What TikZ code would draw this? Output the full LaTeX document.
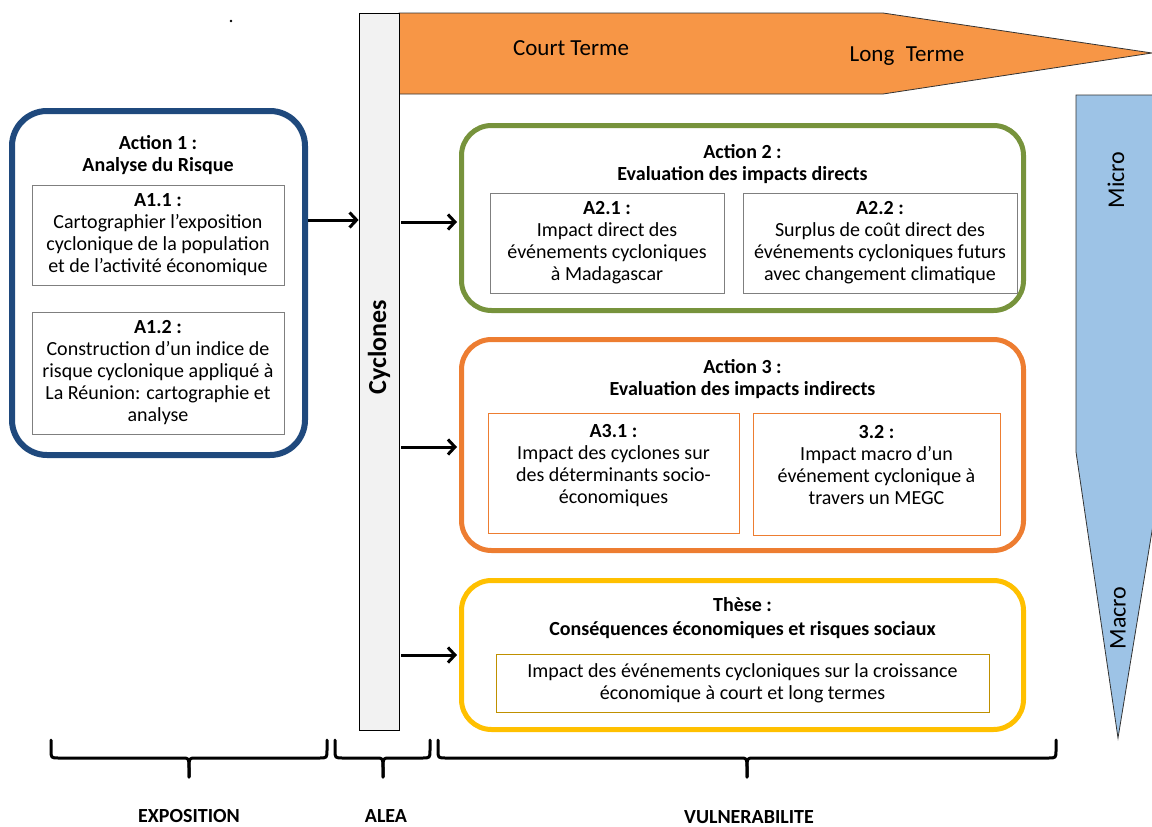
\documentclass[tikz,border=0pt]{standalone}
\usepackage{fontspec}
\setmainfont{Carlito}
\usetikzlibrary{arrows.meta}
\definecolor{orA}{HTML}{F79646}
\definecolor{bluA}{HTML}{9DC3E6}
\definecolor{cycgray}{HTML}{F2F2F2}
\definecolor{navy}{HTML}{1F497D}
\definecolor{grn}{HTML}{77933C}
\definecolor{orB}{HTML}{ED7D31}
\definecolor{yel}{HTML}{FFC000}
\definecolor{boxgray}{HTML}{7F7F7F}
\definecolor{gold}{HTML}{BF9000}
\newcommand\mybrace[3]{%
  \draw[brc] (#1,740) -- (#1,750) .. controls (#1,758) .. (#1+8,758) -- (#2-7,758)
    .. controls (#2,758) .. (#2,768) -- (#2,777);
  \draw[brc] (#2,777) -- (#2,768) .. controls (#2,758) .. (#2+7,758) -- (#3-8,758)
    .. controls (#3,758) .. (#3,750) -- (#3,740);}
\begin{document}
\begin{tikzpicture}[x=1pt,y=-1pt,
  txt/.style={font=\fontsize{20}{22}\selectfont, align=center, inner sep=0pt},
  ttl/.style={align=center, inner sep=0pt, font=\fontsize{20}{22}\selectfont\bfseries},
  outbox/.style={draw, rounded corners=30pt, inner sep=0pt, line width=5pt},
  inbox/.style={draw=boxgray, line width=0.8pt, inner sep=0pt, align=center,
    font=\fontsize{20}{22}\selectfont},
  arr/.style={line width=3pt, -{Straight Barb[length=7pt,width=15pt,line width=3pt]}},
  brc/.style={line width=3pt, line join=round, line cap=round},
  lbl/.style={font=\fontsize{20}{23}\selectfont\bfseries, inner sep=0pt}]
\useasboundingbox (0,0) rectangle (1152,827);

% stray dot
\fill (231,21) circle (1.3);

% blue Micro/Macro shape
\begin{scope}
  \clip (0,0) rectangle (1152,827);
  \filldraw[fill=bluA, draw=black!80, line width=0.8pt]
    (1076,95) -- (1165,95) -- (1165,452) -- (1118,738) -- (1076,452) -- cycle;
\end{scope}
\node[rotate=90, font=\fontsize{24}{26}\selectfont, inner sep=0pt] (micro) at (1116,180) {Micro};
\node[rotate=90, font=\fontsize{24}{26}\selectfont, inner sep=0pt] (macro) at (1118,618) {Macro};

% orange time arrow
\filldraw[fill=orA, draw=black!80, line width=0.8pt]
  (399,13) -- (883,13) -- (1152,53) -- (883,94) -- (399,94) -- cycle;
\node[font=\fontsize{23}{26}\selectfont, inner sep=0pt] (ct) at (571,48) {Court Terme};
\node[font=\fontsize{23}{26}\selectfont, inner sep=0pt] (lt) at (907,56) {Long\hspace{0.5em}Terme};

% cyclones bar
\node[draw, fill=cycgray, line width=0.8pt, minimum width=40pt, minimum height=717pt, inner sep=0pt] (cyc) at (379,371.5) {};
\node[rotate=90, font=\fontsize{26}{28}\selectfont\bfseries, inner sep=0pt] (cyclab) at (379,347) {Cyclones};

% Action 1
\node[outbox, draw=navy, line width=6pt, rounded corners=35pt, minimum width=293pt, minimum height=344pt] (a1) at (158.5,283) {};
\node[ttl] (t1) at (158,155) {Action 1 :\\Analyse du Risque};
\node[inbox, minimum width=252pt, minimum height=100pt] (a11) at (158,235)
  {{\bfseries A1.1 :}\\Cartographier l’exposition\\cyclonique de la population\\et de l’activité économique};
\node[inbox, minimum width=252pt, minimum height=122pt] (a12) at (158,373)
  {{\bfseries A1.2 :}\\Construction d’un indice de\\risque cyclonique appliqué à\\La Réunion: cartographie et\\analyse};

% Action 2
\node[outbox, draw=grn, minimum width=562pt, minimum height=185pt] (a2) at (742.5,218) {};
\node[ttl] (t2) at (742.5,164) {Action 2 :\\Evaluation des impacts directs};
\node[inbox, minimum width=234pt, minimum height=100pt] (a21) at (607,243)
  {{\bfseries A2.1 :}\\Impact direct des\\événements cycloniques\\à Madagascar};
\node[inbox, minimum width=274pt, minimum height=100pt] (a22) at (880,243)
  {{\bfseries A2.2 :}\\Surplus de coût direct des\\événements cycloniques futurs\\avec changement climatique};

% Action 3
\node[outbox, draw=orB, minimum width=562pt, minimum height=211pt] (a3) at (742.5,445) {};
\node[ttl] (t3) at (742.5,379) {Action 3 :\\Evaluation des impacts indirects};
\node[inbox, draw=orB, minimum width=251pt, minimum height=120pt] (a31) at (613.5,473) {};
\node[txt] (a31t) at (613.5,465.5) {{\bfseries A3.1 :}\\Impact des cyclones sur\\des déterminants socio-\\économiques};
\node[inbox, draw=orB, minimum width=247pt, minimum height=122pt] (a32) at (876.5,474) {};
\node[txt] (a32t) at (876.5,465.5) {{\bfseries 3.2 :}\\Impact macro d’un\\événement cyclonique à\\travers un MEGC};

% These
\node[outbox, draw=yel, minimum width=562pt, minimum height=149pt] (th) at (742.5,655) {};
\node[ttl, font=\fontsize{20}{24}\selectfont\bfseries] (tt) at (742.5,618.5) {Thèse :\\Conséquences économiques et risques sociaux};
\node[inbox, draw=gold, minimum width=493pt, minimum height=58pt] (thi) at (742.5,683)
  {Impact des événements cycloniques sur la croissance\\économique à court et long termes};

% arrows
\draw[arr] ([yshift=63pt]a1.east) -- ([yshift=63pt]a1.east -| cyc.west);
\draw[arr, shorten <=2pt, shorten >=2pt] (cyc.east |- 0,222) -- (a2.west |- 0,222);
\draw[arr, shorten <=2pt, shorten >=2pt] (cyc.east |- 0,447) -- (a3.west |- 0,447);
\draw[arr, shorten <=2pt, shorten >=2pt] (cyc.east |- 0,655) -- (th.west |- 0,655);

% braces
\mybrace{51}{189}{327}
\mybrace{335}{383}{430}
\mybrace{438}{747}{1056}
\node[lbl] (expo) at (189,816) {EXPOSITION};
\node[lbl] (alea) at (386,816) {ALEA};
\node[lbl] (vuln) at (749,817) {VULNERABILITE};
\end{tikzpicture}
\end{document}
